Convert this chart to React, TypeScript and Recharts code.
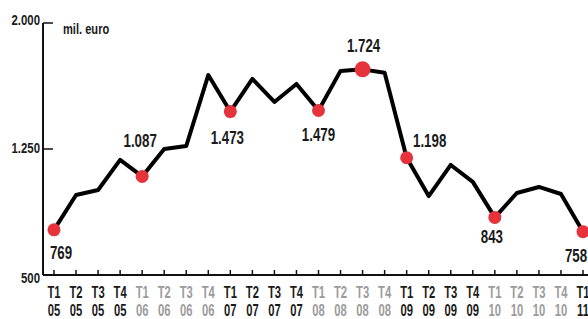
import React from 'react';
import { LineChart, Line, XAxis, YAxis } from 'recharts';

const quarters = ['T1','T2','T3','T4','T1','T2','T3','T4','T1','T2','T3','T4','T1','T2','T3','T4','T1','T2','T3','T4','T1','T2','T3','T4','T1'];
const years = ['05','05','05','05','06','06','06','06','07','07','07','07','08','08','08','08','09','09','09','09','10','10','10','10','11'];
const values = [769, 976, 1006, 1185, 1087, 1250, 1268, 1690, 1473, 1667, 1530, 1637, 1479, 1715, 1724, 1704, 1198, 970, 1155, 1054, 843, 988, 1024, 982, 758];
const labelled = [0, 4, 8, 12, 14, 16, 20, 24];
const yTicks = [500, 1250, 2000];
const unitLabel = 'mil. euro';

const data = values.map((v, i) => ({ cat: quarters[i] + ' ' + years[i], value: v, i }));

// label offsets (dx, dy) relative to the point
const labelOffsets: Record<number, [number, number]> = {
  0: [7, 23], 4: [-2, -35], 8: [-3, 26], 12: [0, 24], 14: [1, -23], 16: [23, -17], 20: [-3, 20], 24: [-7, 24],
};

const FONT = '"Liberation Sans", Arial, sans-serif';
const grayYears = ['06', '08', '10'];

const fmt = (v: number) => String(v).replace(/\B(?=(\d{3})+(?!\d))/g, '.');

const NText = ({ x, y, sx, size, anchor = 'middle', fill = '#1a1a1a', children }: any) => (
  <text
    transform={`translate(${x},${y}) scale(${sx},1)`}
    textAnchor={anchor}
    fontFamily={FONT}
    fontWeight="bold"
    fontSize={size}
    fill={fill}
  >
    {children}
  </text>
);

const XTick = (props: any) => {
  const { x, y, payload } = props;
  const [q, yr] = String(payload.value).split(' ');
  const color = grayYears.includes(yr) ? '#9b9b9b' : '#1a1a1a';
  return (
    <g>
      <line x1={x} y1={y} x2={x} y2={y - 5} stroke="#111" strokeWidth={1.5} />
      <NText x={x} y={y + 23} sx={0.66} size={17} fill={color}>{q}</NText>
      <NText x={x} y={y + 41} sx={0.66} size={17} fill={color}>{yr}</NText>
    </g>
  );
};

const YTick = (props: any) => {
  const { x, y, payload } = props;
  const shift = payload.value === 500 ? 8 : payload.value === 2000 ? 2 : 4;
  return (
    <g>
      <line x1={x} y1={y} x2={x + 10} y2={y} stroke="#111" strokeWidth={1.5} />
      <NText x={x - 3} y={y + shift} sx={0.76} size={15} anchor="end">{fmt(payload.value)}</NText>
    </g>
  );
};

const Dot = (props: any) => {
  const { cx, cy, index } = props;
  if (!labelled.includes(index)) return <g key={index} />;
  const r = index === 14 ? 8 : 6.5;
  return <circle key={index} cx={cx} cy={cy} r={r} fill="#e5323b" />;
};

const Label = (props: any) => {
  const { x, y, index, value } = props;
  if (!labelled.includes(index)) return null;
  const [dx, dy] = labelOffsets[index] || [0, -20];
  return (
    <NText x={x + dx} y={y + dy + 6} sx={0.74} size={18}>{fmt(value)}</NText>
  );
};

export default function App() {
  return (
    <div style={{ position: 'fixed', left: 0, top: 0, width: 588, height: 319, background: '#fff' }}>
      <LineChart width={588} height={319} data={data} margin={{ top: 23, right: 0, bottom: 0, left: 0 }}>
        <XAxis
          dataKey="cat"
          interval={0}
          tickLine={false}
          tickSize={0}
          tickMargin={0}
          height={44}
          padding={{ left: 11, right: 5 }}
          axisLine={{ stroke: '#111', strokeWidth: 2 }}
          tick={<XTick />}
        />
        <YAxis
          domain={[500, 2000]}
          ticks={yTicks}
          width={43}
          tickLine={false}
          tickSize={0}
          tickMargin={0}
          axisLine={{ stroke: '#111', strokeWidth: 2 }}
          tick={<YTick />}
        />
        <Line
          type="linear"
          dataKey="value"
          stroke="#000"
          strokeWidth={4}
          strokeLinejoin="round"
          dot={<Dot />}
          activeDot={false}
          label={<Label />}
          isAnimationActive={false}
        />
        <NText x={63} y={34} sx={0.74} size={15} anchor="start">{unitLabel}</NText>
      </LineChart>
    </div>
  );
}
